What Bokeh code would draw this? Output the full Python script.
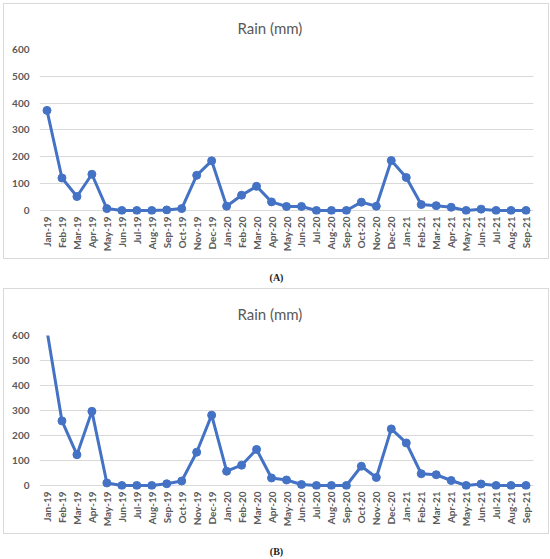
import math
from bokeh.plotting import figure
from bokeh.models import FactorRange, Range1d, FixedTicker, Title
from bokeh.layouts import column
from bokeh.embed import file_html
from bokeh.resources import INLINE

months = ["Jan-19", "Feb-19", "Mar-19", "Apr-19", "May-19", "Jun-19", "Jul-19", "Aug-19",
          "Sep-19", "Oct-19", "Nov-19", "Dec-19", "Jan-20", "Feb-20", "Mar-20", "Apr-20",
          "May-20", "Jun-20", "Jul-20", "Aug-20", "Sep-20", "Oct-20", "Nov-20", "Dec-20",
          "Jan-21", "Feb-21", "Mar-21", "Apr-21", "May-21", "Jun-21", "Jul-21", "Aug-21",
          "Sep-21"]

rain_a = [373, 121, 52, 135, 7, 0, 0, 0, 2, 7, 131, 185, 16, 57, 90, 32,
          15, 15, 0, 0, 0, 31, 16, 186, 123, 22, 18, 12, 0, 5, 0, 0, 0]

rain_b = [620, 259, 124, 297, 11, 1, 1, 1, 8, 19, 134, 282, 58, 82, 145, 31,
          23, 5, 1, 1, 1, 78, 33, 227, 171, 48, 44, 21, 1, 7, 1, 1, 1]

y_ticks = [0, 100, 200, 300, 400, 500, 600]
title_text = "Rain (mm)"
captions = ["(A)", "(B)"]

BLUE = "#4472C4"
GREY = "#595959"
GRID = "#D9D9D9"
W = 544


def make_panel(values, height, top, bottom, standoff):
    p = figure(x_range=FactorRange(*months, range_padding=0),
               y_range=Range1d(-15, 600),
               width=W, height=height,
               min_border_left=35, min_border_right=15,
               min_border_top=top, min_border_bottom=bottom,
               output_backend="svg", toolbar_location=None)
    t = Title(text=title_text, align="left", offset=198, standoff=standoff,
              text_font="Lato", text_font_size="15px", text_font_style="normal",
              text_color=GREY)
    p.add_layout(t, "above")
    p.outline_line_color = None
    p.background_fill_color = "white"
    p.border_fill_color = "white"

    p.xgrid.grid_line_color = None
    p.ygrid.grid_line_color = GRID
    p.ygrid.grid_line_width = 1
    p.yaxis.ticker = FixedTicker(ticks=y_ticks)

    for ax in (p.xaxis, p.yaxis):
        ax.axis_line_color = None
        ax.major_tick_line_color = None
        ax.minor_tick_line_color = None
        ax.major_tick_out = 0
        ax.major_tick_in = 0
        ax.minor_tick_out = 0
        ax.major_label_text_font = "Lato"
        ax.major_label_text_font_size = "10px"
        ax.major_label_text_font_style = "bold"
        ax.major_label_text_color = GREY
    p.yaxis.major_label_standoff = 10
    p.xaxis.major_label_standoff = 2
    p.xaxis.major_label_orientation = math.pi / 2

    p.line(months, values, line_color=BLUE, line_width=3)
    p.scatter(months, values, size=8, fill_color=BLUE, line_color=BLUE)
    # chart-area border as a CSS box around the figure
    return column(p, spacing=0, styles={"border": "1px solid #D9D9D9"})


def caption(text, height, from_top):
    c = figure(width=W + 2, height=height, x_range=Range1d(0, 1), y_range=Range1d(0, 1),
               x_axis_type=None, y_axis_type=None, min_border=0,
               output_backend="svg", toolbar_location=None)
    c.outline_line_color = None
    c.grid.grid_line_color = None
    c.text(x=[0.5], y=[1 - from_top / height], text=[text],
           text_align="center", text_baseline="middle",
           text_font={"value": "Liberation Serif"}, text_font_size="10px",
           text_font_style="bold", text_color="#222222")
    return c


pa = make_panel(rain_a, 254, 45, 44, 25)
ca = caption(captions[0], 29, 18)
pb = make_panel(rain_b, 244, 45, 44, 26)
cb = caption(captions[1], 25, 17)

layout = column(pa, ca, pb, cb, spacing=0,
                styles={"padding-left": "3px", "padding-top": "3px"})
open("out.html", "w").write(file_html(layout, INLINE))
